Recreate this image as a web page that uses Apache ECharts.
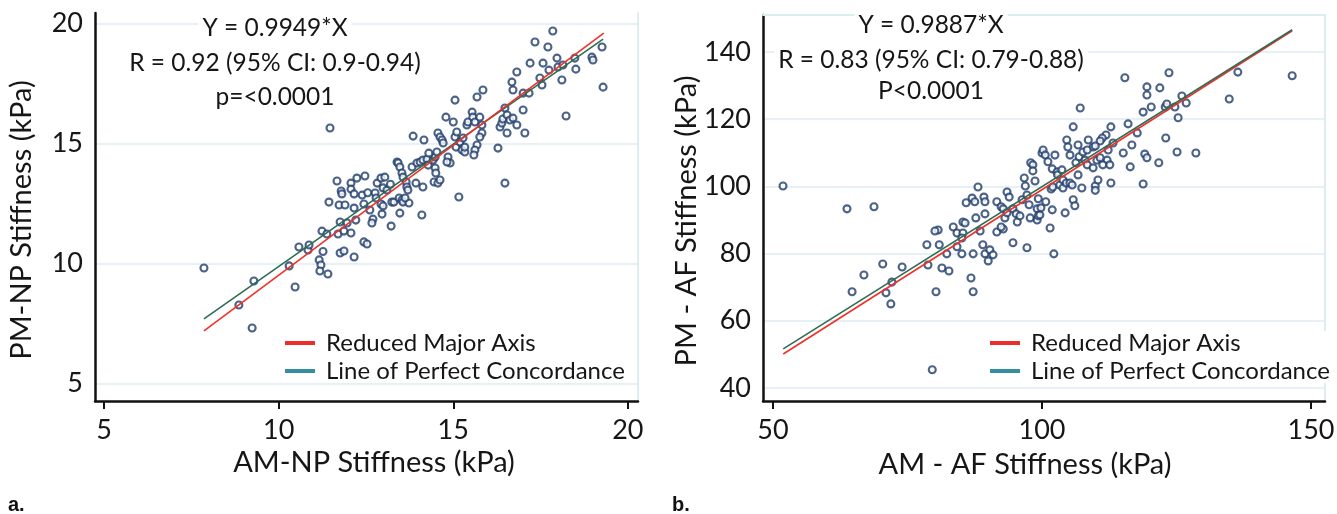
<!DOCTYPE html>
<html><head><meta charset="utf-8">
<script src="https://cdn.jsdelivr.net/npm/echarts@6/dist/echarts.min.js"></script>
<style>html,body{margin:0;padding:0;background:#fff}#c{width:1337px;height:514px}</style>
</head><body><div id="c"></div><script>
// ---------- data ----------
const npTicks = [5, 10, 15, 20];
const afXTicks = [50, 100, 150];
const afYTicks = [40, 60, 80, 100, 120, 140];

// Panel a: [AM-NP, PM-NP] stiffness (kPa)
const npPoints = [
[7.86,9.81],[8.86,8.27],[9.29,9.27],[9.24,7.31],[10.30,9.90],[10.47,9.02],[10.84,10.56],[11.16,10.15],
[11.21,9.94],[11.18,9.69],[11.41,9.56],[11.27,10.50],[10.58,10.69],[10.87,10.77],[11.24,11.35],[11.38,11.23],
[11.70,11.23],[11.76,11.73],[11.44,12.56],[11.73,12.44],[11.90,12.44],[11.67,13.44],[11.79,13.02],[11.81,12.90],
[12.07,13.35],[12.24,13.56],[12.07,13.10],[12.16,12.90],[12.39,12.85],[12.47,13.65],[12.16,12.31],[12.44,12.48],
[11.76,10.44],[11.87,10.52],[12.16,10.27],[11.87,11.35],[12.07,11.27],[11.96,11.69],[12.21,11.81],[12.44,10.90],
[12.53,10.81],[12.70,11.85],[12.67,11.69],[12.61,12.23],[12.76,12.94],[12.82,13.35],[12.93,13.56],[13.04,13.60],
[12.79,12.73],[12.93,12.48],[12.99,12.40],[12.96,12.06],[12.99,13.15],[13.10,13.06],[13.22,11.56],[13.24,12.56],
[13.30,12.56],[13.39,14.23],[13.42,14.19],[13.45,12.73],[11.47,15.65],[13.47,14.02],[13.53,13.77],[13.56,13.60],
[13.65,13.40],[13.67,13.19],[13.70,13.06],[13.53,12.65],[13.56,12.56],[13.73,12.52],[13.47,12.10],[13.62,12.73],
[13.82,14.02],[13.85,15.31],[13.93,13.35],[13.96,14.19],[14.05,14.23],[14.13,14.31],[14.25,14.35],[14.28,14.10],
[14.16,15.15],[14.10,12.02],[14.13,13.19],[14.42,14.31],[14.48,14.44],[14.53,14.65],[14.48,13.98],[14.50,13.77],
[14.45,13.40],[14.56,13.35],[14.62,13.48],[14.56,15.44],[14.62,15.27],[14.68,15.15],[14.71,15.02],[14.79,16.10],
[14.85,14.44],[14.91,14.19],[14.82,14.23],[15.00,15.90],[15.05,15.27],[15.10,15.48],[15.05,16.81],[15.08,14.85],
[15.16,12.77],[15.19,15.06],[15.25,14.73],[15.28,15.23],[15.33,14.65],[15.39,15.77],[15.42,15.90],[15.54,16.31],
[15.56,16.10],[15.62,15.90],[15.68,16.94],[15.76,16.10],[15.82,15.77],[15.85,17.23],[15.82,15.44],[15.76,15.27],
[15.68,14.94],[15.62,14.73],[15.59,14.52],[15.33,14.85],[16.28,14.81],[16.34,15.69],[16.39,15.85],[16.42,16.02],
[16.54,16.19],[16.54,15.44],[16.62,15.98],[16.71,16.06],[16.82,15.77],[16.48,13.35],[16.48,16.48],[16.68,17.56],
[16.71,17.23],[16.82,17.98],[17.00,16.40],[17.05,15.44],[17.00,17.10],[17.17,17.10],[17.20,18.35],[17.34,19.23],
[17.48,17.73],[17.54,17.44],[17.57,18.35],[17.71,19.02],[17.74,18.06],[17.85,19.69],[17.97,18.56],[18.00,18.19],
[18.11,17.65],[18.14,18.27],[18.23,16.15],[18.48,18.56],[18.51,18.10],[18.97,18.60],[19.00,18.48],[19.26,19.02],
[19.29,17.35],[12.55,12.95],[13.20,13.30],[14.30,14.60]
];
const npRMA = [[7.86,7.19],[19.31,19.60]];
const npLPC = [[7.86,7.69],[19.29,19.35]];

// Panel b: [AM-AF, PM-AF] stiffness (kPa)
const afPoints = [
[51.86,100.1],[63.75,93.3],[68.77,93.9],[88.1,99.8],[85.9,95.1],[87.0,96.5],[87.5,95.4],[89.2,96.8],
[89.4,95.4],[91.6,95.4],[89.4,91.8],[85.3,89.4],[85.7,89.1],[87.7,90.6],[83.5,87.9],[80.7,87.0],
[80.1,86.7],[84.2,86.1],[85.3,86.1],[88.5,86.7],[91.6,86.4],[78.6,82.6],[80.9,82.6],[84.2,82.0],
[85.1,84.6],[89.0,82.6],[82.3,79.9],[85.1,79.9],[87.2,79.9],[89.4,79.9],[90.3,81.1],[90.9,79.6],
[64.7,68.6],[66.9,73.6],[70.4,76.9],[74.0,76.0],[71.0,68.3],[72.1,71.5],[71.9,65.0],[78.8,76.6],
[80.3,68.6],[81.4,75.7],[82.7,74.8],[86.8,72.7],[87.2,68.6],[79.6,45.4],[90.0,77.8],[92.4,93.9],
[92.8,93.3],[93.1,90.6],[92.8,87.3],[92.4,87.9],[93.5,98.3],[93.9,96.8],[93.5,92.1],[94.6,93.3],
[94.6,83.2],[95.2,91.8],[95.4,89.4],[95.9,91.2],[96.3,96.0],[96.7,102.5],[96.9,100.1],[97.2,81.7],
[97.2,97.4],[97.6,94.5],[97.8,90.6],[97.9,107.0],[98.3,106.4],[98.7,101.6],[98.3,104.6],[99.1,93.3],
[99.1,90.0],[99.3,91.2],[99.6,91.5],[99.3,96.3],[99.8,93.6],[100.0,109.9],[100.2,110.8],[100.6,109.3],
[100.7,95.4],[101.1,107.3],[101.5,87.6],[101.7,99.2],[101.9,93.0],[101.9,105.2],[102.0,99.8],[102.2,79.9],
[102.4,109.3],[102.8,104.3],[102.9,103.4],[103.3,100.4],[103.7,104.9],[103.9,101.9],[103.9,99.5],[104.3,92.1],
[104.5,101.0],[104.6,113.8],[104.8,111.7],[105.2,109.3],[105.2,101.0],[105.6,100.4],[105.8,117.7],[105.8,96.0],
[106.1,94.2],[106.3,107.0],[106.7,103.4],[106.7,112.3],[106.9,108.8],[107.4,99.5],[107.6,110.2],[108.0,107.8],
[108.4,106.4],[108.6,113.8],[109.5,111.7],[109.9,100.1],[110.2,107.8],[110.4,101.9],[115.4,132.3],[123.6,133.8],
[119.5,129.6],[119.5,127.2],[121.9,129.3],[118.8,122.1],[120.3,123.6],[122.9,123.6],[123.2,124.5],[124.7,123.6],
[126.0,126.9],[126.8,124.8],[125.3,120.4],[136.4,134.0],[134.8,126.0],[146.5,132.9],[107.1,123.3],[116.0,118.6],
[112.8,117.7],[111.9,115.3],[111.2,114.4],[110.8,113.5],[109.9,112.0],[117.7,115.9],[116.7,112.3],[115.1,109.9],
[113.2,112.9],[112.3,110.8],[123.0,114.4],[119.1,109.6],[119.5,108.5],[125.1,110.2],[128.6,109.9],[121.7,107.0],
[116.4,105.8],[112.8,101.0],[109.9,98.8],[118.8,100.7],[112.1,107.8],[111.3,106.4],[112.6,106.4],[109.5,105.5],
[110.8,108.5],[108.4,110.8]
];
const afRMA = [[51.9,50.1],[146.5,146.3]];
const afLPC = [[51.9,51.6],[146.5,146.6]];

const npText = ['Y = 0.9949*X', 'R = 0.92 (95% CI: 0.9-0.94)', 'p=<0.0001'];
const afText = ['Y = 0.9887*X', 'R = 0.83 (95% CI: 0.79-0.88)', 'P<0.0001'];
const npTitles = ['AM-NP Stiffness (kPa)', 'PM-NP Stiffness (kPa)'];
const afTitles = ['AM - AF Stiffness (kPa)', 'PM - AF Stiffness (kPa)'];

// ---------- chart ----------
const FONT = 'Lato, "Open Sans", sans-serif';
const TXT = '#161616';
const GRIDC = '#dcedf2';
const chart = echarts.init(document.getElementById('c'), null, {renderer: 'canvas'});

function xAx(gi, min, max, ticks) {
  return {
    type: 'value', gridIndex: gi, min, max, position: 'bottom',
    axisLine: {show: true, onZero: false, lineStyle: {color: '#111', width: 2.5}},
    axisTick: {show: true, length: 8, lineStyle: {color: '#111', width: 2}, customValues: ticks},
    axisLabel: {fontFamily: FONT, fontSize: 27, color: TXT, margin: 16, customValues: ticks},
    splitLine: {show: false}
  };
}
function yAx(gi, min, max, ticks) {
  return {
    type: 'value', gridIndex: gi, min, max, position: 'left',
    axisLine: {show: true, onZero: false, lineStyle: {color: '#111', width: 2.5}},
    axisTick: {show: false, customValues: ticks},
    axisLabel: {fontFamily: FONT, fontSize: 27, color: TXT, margin: 12, customValues: ticks},
    splitLine: {show: true, lineStyle: {color: GRIDC, width: 1.5}}
  };
}
function borderAx(gi, pos, min, max) {
  return {
    type: 'value', gridIndex: gi, position: pos, min, max,
    axisLine: {show: true, onZero: false, lineStyle: {color: GRIDC, width: 2}},
    axisTick: {show: false}, axisLabel: {show: false}, splitLine: {show: false}
  };
}
function scatter(xi, yi, data) {
  return {type: 'scatter', xAxisIndex: xi, yAxisIndex: yi, data, symbol: 'circle', symbolSize: 7,
    itemStyle: {color: '#ffffff', borderColor: '#1f3c6b', borderWidth: 2.1}, z: 2, silent: true};
}
function line(xi, yi, name, data, color) {
  return {type: 'line', name, xAxisIndex: xi, yAxisIndex: yi, data, symbol: 'none',
    lineStyle: {color, width: 1.6}, itemStyle: {color}, z: 3, silent: true, animation: false};
}
function legend(left) {
  return {
    left, top: 331, orient: 'vertical', itemWidth: 30, itemHeight: 4, itemGap: 4, icon: 'rect',
    padding: [0, 2, 0, 0], backgroundColor: '#fff', selectedMode: false,
    textStyle: {fontFamily: FONT, fontSize: 24, color: TXT, padding: [0, 0, 0, 6]},
    data: [
      {name: 'Reduced Major Axis', itemStyle: {color: '#ec2f2a'}},
      {name: 'Line of Perfect Concordance', itemStyle: {color: '#348fa0'}}
    ]
  };
}
function txt(x, y, t, size, extra) {
  return Object.assign({
    type: 'text', x, y, z: 50,
    style: {text: t, fontFamily: FONT, fontSize: size, fill: TXT, textAlign: 'center', textVerticalAlign: 'middle'}
  }, extra || {});
}
function annot(cx, ys, lines) {
  return lines.map((t, i) => {
    const g = txt(cx, ys[i], t, 24.5);
    g.style.backgroundColor = '#fff';
    g.style.padding = [0, 4];
    return g;
  });
}

const option = {
  animation: false,
  backgroundColor: '#fff',
  grid: [
    {left: 95, top: 13, width: 543, height: 388, outerBoundsMode: 'none', containLabel: false},
    {left: 763, top: 15, width: 562, height: 386, outerBoundsMode: 'none', containLabel: false}
  ],
  xAxis: [
    xAx(0, 4.74, 20.29, npTicks),
    xAx(1, 48.14, 152.6, afXTicks),
    borderAx(1, 'top', 48.14, 152.6)
  ],
  yAxis: [
    yAx(0, 4.27, 20.44, npTicks),
    yAx(1, 36.1, 151, afYTicks),
    borderAx(0, 'right', 4.27, 20.44),
    borderAx(1, 'right', 36.1, 151)
  ],
  legend: [legend(285), legend(990)],
  series: [
    scatter(0, 0, npPoints),
    line(0, 0, 'Line of Perfect Concordance', npLPC, '#2d6d52'),
    line(0, 0, 'Reduced Major Axis', npRMA, '#f0302a'),
    scatter(1, 1, afPoints),
    line(1, 1, 'Reduced Major Axis', afRMA, '#f0302a'),
    line(1, 1, 'Line of Perfect Concordance', afLPC, '#2d6d52')
  ],
  graphic: [
    ...annot(275, [28, 63, 97], npText),
    ...annot(931, [25, 60, 91], afText),
    txt(374, 463, npTitles[0], 29),
    txt(22, 220, npTitles[1], 29, {rotation: Math.PI / 2}),
    txt(1025, 465, afTitles[0], 29),
    txt(687, 221, afTitles[1], 29, {rotation: Math.PI / 2}),
    {type: 'text', x: 8, y: 505, style: {text: 'a.', fontFamily: '"Liberation Sans", sans-serif', fontWeight: 'bold', fontSize: 20, fill: '#111', textVerticalAlign: 'middle'}},
    {type: 'text', x: 672, y: 505, style: {text: 'b.', fontFamily: '"Liberation Sans", sans-serif', fontWeight: 'bold', fontSize: 20, fill: '#111', textVerticalAlign: 'middle'}}
  ]
};
chart.setOption(option);
</script></body></html>
